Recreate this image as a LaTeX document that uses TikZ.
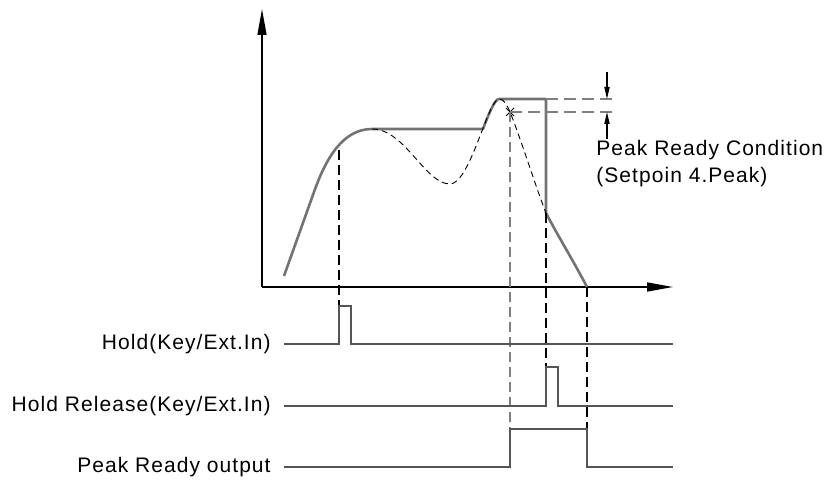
\documentclass[tikz,border=0pt]{standalone}
\usepackage{fontspec}
\setmainfont{Liberation Sans}[LetterSpace=5]
\usetikzlibrary{arrows.meta,shapes.misc}
\definecolor{heldgray}{HTML}{737373}
\definecolor{tracegray}{HTML}{555555}
\definecolor{guidegray}{HTML}{808080}

\begin{document}
\begin{tikzpicture}[x=0.5pt,y=-0.5pt,
    font=\fontsize{10.5}{12}\selectfont,
    axis/.style={line width=0.75pt,black,-{Triangle[length=13pt,width=4.5pt]}},
    held/.style={line width=1.3pt,heldgray,line join=round},
    orig/.style={line width=0.45pt,black,dash pattern=on 3pt off 2pt},
    guide/.style={line width=0.6pt,black,dash pattern=on 5pt off 2.5pt},
    level/.style={line width=0.7pt,guidegray,dash pattern=on 6pt off 3pt},
    dim/.style={line width=0.6pt,black,-{Triangle[length=6pt,width=2.6pt]}},
    trace/.style={line width=0.7pt,tracegray},
    siglabel/.style={anchor=east,inner sep=0pt},
    cond/.style={anchor=west,inner sep=0pt}]
  \useasboundingbox (0,0) rectangle (826,481);
  % axes
  \coordinate (org) at (262,287);
  \draw[axis] (org) -- (262,9);
  \draw[axis] (org) -- (673,287);
  % held value and original signal
  \draw[held] (284,276) -- (314,192) .. controls (326,158) and (343,129) .. (372,129)
    -- (483,129) .. controls (489,113) and (495,99) .. (499,99) -- (546,99) -- (546,213)
    .. controls (558,236) and (574,262) .. (587,287);
  \draw[orig] (372,129) .. controls (405,129) and (425,184) .. (450,184)
    .. controls (470,184) and (488,99) .. (499,99)
    .. controls (504,99) and (507,105) .. (510,112)
    .. controls (522,142) and (535,185) .. (546,213);
  \node[cross out,draw,black,line width=0.5pt,minimum size=3.5pt,inner sep=0pt] (xmark) at (510,112) {};
  % peak ready condition
  \draw[level] (546,99) -- (612,99);
  \draw[level] (xmark.center) -- (612,112);
  \draw[dim] (607,72) -- (607,99);
  \draw[dim] (607,139) -- (607,112);
  \node[cond] (cond) at (596,150) {Peak Ready Condition};
  \node[cond] (setp) at (596,177) {(Setpoin 4.Peak)};
  % guide lines
  \draw[guide] (339,150) -- (339,306);
  \draw[guide,guidegray] (xmark.center) -- (510,429);
  \draw[guide] (546,213) -- (546,367);
  \draw[guide] (587,287) -- (587,429);
  % timing signals
  \node[siglabel] (hold) at (271,344) {Hold(Key/Ext.In)};
  \node[siglabel] (rel) at (271,406) {Hold Release(Key/Ext.In)};
  \node[siglabel] (pro) at (271,467) {Peak Ready output};
  \draw[trace] (284,344) -- (339,344) -- (339,306) -- (351,306) -- (351,344) -- (673,344);
  \draw[trace] (284,406) -- (546,406) -- (546,367) -- (558,367) -- (558,406) -- (673,406);
  \draw[trace] (284,467) -- (510,467) -- (510,429) -- (587,429) -- (587,467) -- (673,467);
\end{tikzpicture}
\end{document}
